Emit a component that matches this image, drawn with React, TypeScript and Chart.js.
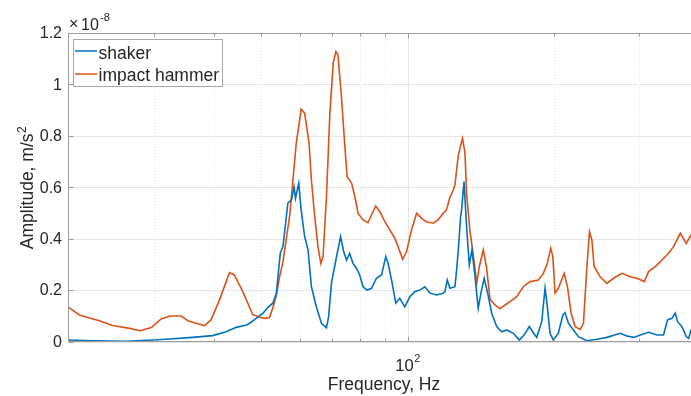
import React, { useEffect, useRef } from 'react';
import { Chart, registerables } from 'chart.js';

Chart.register(...registerables);

// ---------------- DATA (amplitude in units of 1e-8 m/s^2, frequency in Hz) ----------------
const shakerFreq = [
  20, 22.5, 26.3, 29.9, 32.4, 36.1, 39.7, 42.3, 44.4, 46.6, 47.3, 48.8, 50.4, 51.6, 52.8, 53.7,
  54.7, 55.4, 56.0, 56.7, 57.7, 58.4, 58.8, 59.7, 60.4, 61.4, 62.4, 63.4, 64.9, 66.5, 68.1, 68.8,
  69.7, 71.2, 72.8, 73.9, 74.9, 76.0, 77.2, 78.5, 79.7, 81.0, 82.5, 84.3, 86.3, 88.4, 90.2, 91.2,
  92.7, 94.6, 96.4, 98.7, 101.1, 103.5, 106.0, 108.6, 111.2, 114.8, 118.4, 119.4, 120.7, 122.2,
  125.2, 126.2, 127.2, 128.6, 129.2, 130.7, 132.3, 134.0, 135.7, 137.7, 139.8, 141.6, 143.8,
  146.2, 149.0, 152.6, 156.3, 160.0, 165.1, 169.9, 173.7, 178.1, 181.0, 184.5, 188.9, 191.9,
  194.0, 196.5, 199.6, 204.4, 208.8, 211.0, 214.4, 219.5, 224.8, 234.0, 245.4, 257.3, 274.0,
  282.9, 292.0, 301.4, 313.5, 326.3, 336.5, 343.0, 350.2, 355.7, 359.7, 367.2, 374.8, 379.0,
  383.3, 400,
];
const shakerAmp = [
  0.006, 0.003, 0.001, 0.006, 0.01, 0.016, 0.023, 0.038, 0.055, 0.064, 0.071, 0.09, 0.11, 0.133, 0.149, 0.188,
  0.343, 0.369, 0.447, 0.538, 0.551, 0.602, 0.557, 0.616, 0.512, 0.408, 0.356, 0.213, 0.135, 0.071, 0.054, 0.097,
  0.226, 0.317, 0.408, 0.349, 0.317, 0.343, 0.304, 0.285, 0.259, 0.213, 0.2, 0.207, 0.246, 0.259, 0.33, 0.304,
  0.239, 0.149, 0.168, 0.135, 0.174, 0.194, 0.2, 0.213, 0.188, 0.181, 0.188, 0.194, 0.239, 0.207,
  0.213, 0.278, 0.356, 0.486, 0.512, 0.622, 0.447, 0.298, 0.356, 0.252, 0.129, 0.188, 0.246,
  0.188, 0.11, 0.058, 0.038, 0.045, 0.032, 0.006, 0.025, 0.058, 0.038, 0.016, 0.077, 0.207,
  0.135, 0.032, 0.006, 0.032, 0.103, 0.112, 0.071, 0.045, 0.019, 0.003, 0.009, 0.016, 0.032,
  0.021, 0.016, 0.025, 0.036, 0.025, 0.025, 0.084, 0.09, 0.11, 0.077, 0.058, 0.019, 0.012,
  0.045, 0.05,
];

const hammerFreq = [
  20, 21.1, 23.2, 24.7, 26.8, 28.1, 29.7, 31.1, 32.4, 34.2, 35.3, 36.7, 38.2, 39.4, 41.0, 43.0,
  44.0, 45.8, 48.0, 49.6, 51.0, 52.0, 52.8, 53.7, 54.5, 55.4, 56.3, 57.2, 58.1, 59.0, 60.4, 61.4,
  62.7, 63.4, 64.4, 65.4, 66.3, 67.0, 68.1, 69.2, 70.3, 71.2, 71.9, 73.1, 74.3, 75.1, 76.7, 77.9,
  79.1, 81.0, 82.9, 84.3, 86.0, 87.7, 89.8, 91.9, 94.2, 95.6, 97.7, 99.5, 101.9, 104.4, 106.9,
  109.4, 112.9, 115.6, 118.4, 120.3, 122.2, 124.2, 125.2, 127.2, 129.8, 131.3, 132.3, 134.4,
  136.5, 138.8, 140.5, 143.2, 145.5, 147.8, 151.4, 155.0, 158.7, 162.5, 167.8, 173.2, 178.7,
  185.9, 190.4, 194.0, 197.2, 199.1, 201.2, 204.4, 210.1, 213.4, 217.1, 221.3, 226.7, 230.2,
  234.0, 236.9, 239.6, 242.2, 249.2, 257.3, 265.5, 276.3, 287.4, 296.7, 307.1, 313.5, 323.6,
  334.1, 344.6, 352.9, 364.3, 374.8, 383.3, 400,
];
const hammerAmp = [
  0.135, 0.103, 0.081, 0.062, 0.051, 0.042, 0.054, 0.088, 0.099, 0.099, 0.081, 0.071, 0.062, 0.084, 0.161, 0.268,
  0.259, 0.194, 0.105, 0.094, 0.09, 0.094, 0.13, 0.18, 0.25, 0.31, 0.4, 0.49, 0.63, 0.77, 0.904, 0.888,
  0.771, 0.628, 0.486, 0.369, 0.304, 0.33, 0.563, 0.888, 1.082, 1.128, 1.115, 0.953, 0.758, 0.641, 0.616, 0.563,
  0.499, 0.473, 0.462, 0.492, 0.527, 0.505, 0.466, 0.434, 0.401, 0.369, 0.32, 0.349, 0.434, 0.499, 0.479,
  0.466, 0.46, 0.473, 0.499, 0.512, 0.56, 0.589, 0.609, 0.725, 0.791, 0.732, 0.577, 0.43,
  0.34, 0.226, 0.291, 0.356, 0.285, 0.165, 0.142, 0.127, 0.142, 0.155, 0.174, 0.213, 0.233,
  0.239, 0.265, 0.304, 0.363, 0.33, 0.188, 0.207, 0.265, 0.213, 0.11, 0.058, 0.047, 0.071,
  0.291, 0.427, 0.395, 0.291, 0.252, 0.226, 0.246, 0.265, 0.252, 0.246, 0.233, 0.272, 0.291,
  0.317, 0.343, 0.369, 0.421, 0.382, 0.414, 0.42,
];

const seriesNames = ['shaker', 'impact hammer'];
const seriesColors = ['#0072BD', '#D95319'];

const yTickValues = [0, 0.2, 0.4, 0.6, 0.8, 1, 1.2];
const yTickLabels = ['0', '0.2', '0.4', '0.6', '0.8', '1', '1.2'];
const xMajorTicks = [100];
const xMinorTicks = [20, 30, 40, 50, 60, 70, 80, 90, 200, 300, 400];

const X_MIN = 20;
const X_MAX = 400;
const Y_MIN = 0;
const Y_MAX = 1.2;

const FONT = '"Liberation Sans", Arial, Helvetica, sans-serif';
const TEXT = '#262626';
const AXIS = '#9c9c9c';

function line(ctx: CanvasRenderingContext2D, x1: number, y1: number, x2: number, y2: number) {
  ctx.beginPath();
  ctx.moveTo(x1, y1);
  ctx.lineTo(x2, y2);
  ctx.stroke();
}

const matlabPlugin = {
  id: 'matlabLook',
  beforeDatasetsDraw(chart: any) {
    const { ctx, chartArea, scales } = chart;
    const { left, right, top, bottom } = chartArea;
    const x = scales.x;
    const y = scales.y;
    ctx.save();
    ctx.lineWidth = 1;
    // horizontal grid
    ctx.strokeStyle = '#e6e6e6';
    yTickValues.forEach((v) => {
      const py = Math.round(y.getPixelForValue(v)) + 0.5;
      line(ctx, left, py, right, py);
    });
    // major vertical grid
    xMajorTicks.forEach((v) => {
      const px = Math.round(x.getPixelForValue(v)) + 0.5;
      line(ctx, px, top, px, bottom);
    });
    // minor vertical grid (dotted)
    ctx.strokeStyle = '#e4e4e4';
    ctx.setLineDash([1, 2]);
    xMinorTicks.forEach((v) => {
      const px = Math.round(x.getPixelForValue(v)) + 0.5;
      line(ctx, px, top, px, bottom);
    });
    ctx.restore();
  },
  afterDatasetsDraw(chart: any) {
    const { ctx, chartArea, scales } = chart;
    const { left, right, top, bottom } = chartArea;
    const x = scales.x;
    const y = scales.y;
    ctx.save();
    ctx.lineWidth = 1;
    ctx.strokeStyle = AXIS;
    ctx.setLineDash([]);
    const L = Math.round(left) + 0.5;
    const T = Math.round(top) + 0.5;
    const B = Math.round(bottom) - 0.5;
    // box
    line(ctx, L, T, right, T);
    line(ctx, L, B, right, B);
    line(ctx, L, T, L, B);
    line(ctx, Math.round(right) - 0.5, T, Math.round(right) - 0.5, B);
    // y ticks
    yTickValues.forEach((v) => {
      const py = Math.round(y.getPixelForValue(v)) + 0.5;
      line(ctx, L, py, L + 5, py);
    });
    // x ticks
    xMajorTicks.forEach((v) => {
      const px = Math.round(x.getPixelForValue(v)) + 0.5;
      line(ctx, px, B, px, B - 5);
      line(ctx, px, T, px, T + 5);
    });
    xMinorTicks.forEach((v) => {
      const px = Math.round(x.getPixelForValue(v)) + 0.5;
      line(ctx, px, B, px, B - 3);
      line(ctx, px, T, px, T + 3);
    });

    // y tick labels
    ctx.fillStyle = TEXT;
    ctx.font = `16px ${FONT}`;
    ctx.textAlign = 'right';
    ctx.textBaseline = 'middle';
    yTickValues.forEach((v, i) => {
      ctx.fillText(yTickLabels[i], left - 6, y.getPixelForValue(v) + 1);
    });

    // exponent label ×10^-8
    ctx.textAlign = 'left';
    ctx.textBaseline = 'alphabetic';
    ctx.font = `16px ${FONT}`;
    ctx.fillText('×', 69, 29);
    ctx.fillText('10', 81, 30);
    ctx.font = `11px ${FONT}`;
    ctx.fillText('-8', 100, 21);

    // x tick label 10^2
    const px100 = x.getPixelForValue(100);
    ctx.font = `16.5px ${FONT}`;
    const w10 = ctx.measureText('10').width;
    ctx.font = `11px ${FONT}`;
    const w2 = ctx.measureText('2').width;
    const startX = px100 - (w10 + w2) / 2;
    ctx.font = `16.5px ${FONT}`;
    ctx.fillText('10', startX, 370.5);
    ctx.font = `11px ${FONT}`;
    ctx.fillText('2', startX + w10 + 0.5, 362);

    // x axis title
    ctx.font = `17.5px ${FONT}`;
    ctx.textAlign = 'center';
    ctx.fillText('Frequency, Hz', (left + right) / 2, 390);

    // y axis title (rotated)
    ctx.save();
    ctx.font = `17.5px ${FONT}`;
    const mainTxt = 'Amplitude, m/s';
    const wMain = ctx.measureText(mainTxt).width;
    ctx.font = `12px ${FONT}`;
    const wSup = ctx.measureText('2').width;
    const cy = 188;
    ctx.translate(33, cy);
    ctx.rotate(-Math.PI / 2);
    ctx.textAlign = 'left';
    const sx = -(wMain + wSup) / 2;
    ctx.font = `17.5px ${FONT}`;
    ctx.fillText(mainTxt, sx, 0);
    ctx.font = `12px ${FONT}`;
    ctx.fillText('2', sx + wMain + 0.5, -7);
    ctx.restore();

    // legend
    const lx = 73.5, ly = 39.5, lw = 149, lh = 47;
    ctx.fillStyle = '#ffffff';
    ctx.fillRect(lx, ly, lw, lh);
    ctx.strokeStyle = '#a8a8a8';
    ctx.strokeRect(lx, ly, lw, lh);
    const rows = [51, 74];
    const bases = [58.5, 81];
    ctx.font = `17.5px ${FONT}`;
    ctx.textAlign = 'left';
    seriesNames.forEach((name, i) => {
      ctx.strokeStyle = seriesColors[i];
      ctx.lineWidth = 1.5;
      line(ctx, 75, rows[i], 97, rows[i]);
      ctx.fillStyle = TEXT;
      ctx.fillText(name, 98.5, bases[i]);
    });
    ctx.restore();
  },
};

export default function App() {
  const ref = useRef<HTMLCanvasElement>(null);
  useEffect(() => {
    const canvas = ref.current;
    if (!canvas) return;
    const chart = new Chart(canvas, {
      type: 'line',
      data: {
        datasets: [
          {
            label: seriesNames[0],
            data: shakerFreq.map((f, i) => ({ x: f, y: shakerAmp[i] })),
            borderColor: seriesColors[0],
            borderWidth: 1.6,
            pointRadius: 0,
            tension: 0,
            fill: false,
          },
          {
            label: seriesNames[1],
            data: hammerFreq.map((f, i) => ({ x: f, y: hammerAmp[i] })),
            borderColor: seriesColors[1],
            borderWidth: 1.6,
            pointRadius: 0,
            tension: 0,
            fill: false,
          },
        ],
      },
      options: {
        animation: false,
        responsive: true,
        maintainAspectRatio: false,
        layout: { padding: { top: 33, left: 0, right: 0, bottom: 0 } },
        plugins: { legend: { display: false }, tooltip: { enabled: false } },
        scales: {
          x: {
            type: 'logarithmic',
            min: X_MIN,
            max: X_MAX,
            ticks: { display: false },
            grid: { display: false },
            border: { display: false },
            afterFit: (s: any) => {
              s.height = 54.5;
            },
          },
          y: {
            type: 'linear',
            min: Y_MIN,
            max: Y_MAX,
            ticks: { display: false },
            grid: { display: false },
            border: { display: false },
            afterFit: (s: any) => {
              s.width = 68;
            },
          },
        },
      },
      plugins: [matlabPlugin],
    } as any);
    return () => chart.destroy();
  }, []);

  return (
    <div
      style={{
        position: 'fixed',
        left: 0,
        top: 0,
        width: 691,
        height: 396,
        overflow: 'hidden',
        background: '#ffffff',
      }}
    >
      <div style={{ position: 'relative', width: 700, height: 396 }}>
        <canvas ref={ref} />
      </div>
    </div>
  );
}
